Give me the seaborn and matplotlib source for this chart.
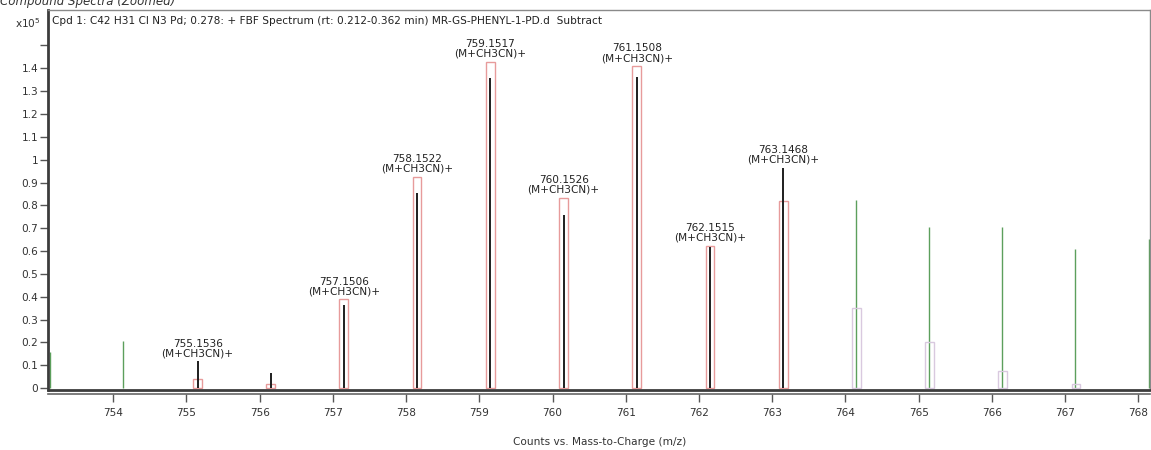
import matplotlib
matplotlib.use("Agg")
import matplotlib.pyplot as plt
import seaborn as sns

sns.set_theme(style="white")
plt.rcParams['font.family'] = ['DejaVu Sans']

# sample spectrum (black sticks), counts x10^5
peak_mz = [755.1536, 756.1520, 757.1506, 758.1522, 759.1517, 760.1526, 761.1508, 762.1515, 763.1468]
peak_int = [0.119, 0.068, 0.365, 0.853, 1.356, 0.758, 1.363, 0.619, 0.965]
peak_labels = ["755.1536", None, "757.1506", "758.1522", "759.1517", "760.1526",
               "761.1508", "762.1515", "763.1468"]
adduct = "(M+CH3CN)+"

# predicted isotope pattern (red boxes)
pred_mz = [755.15, 756.15, 757.15, 758.15, 759.15, 760.15, 761.15, 762.15, 763.15]
pred_int = [0.04, 0.02, 0.39, 0.926, 1.429, 0.834, 1.411, 0.624, 0.819]

# pattern tail outside the match (pale boxes)
tail_mz = [764.15, 765.15, 766.15, 767.15]
tail_int = [0.35, 0.204, 0.076, 0.02]

# other ions (green sticks)
other_mz = [753.14, 754.14, 764.14, 765.14, 766.14, 767.14, 768.14]
other_int = [0.16, 0.208, 0.824, 0.707, 0.704, 0.609, 0.654]

yticks = [0, 0.1, 0.2, 0.3, 0.4, 0.5, 0.6, 0.7, 0.8, 0.9, 1, 1.1, 1.2, 1.3, 1.4, 1.5]
xticks = list(range(754, 769))

fig = plt.figure(figsize=(11.51, 4.5), dpi=100)
ax = fig.add_axes([48 / 1151, 60 / 450, 1102 / 1151, 380 / 450])

ylo, yhi = -0.008, 1.655
ax.set_xlim(753.11, 768.16)
ax.set_ylim(ylo, yhi)

ax.vlines(other_mz, 0, other_int, color="#5c9f5c", lw=1.0, zorder=2)
ax.bar(pred_mz, pred_int, width=0.12, fill=False, edgecolor="#e79b9b", lw=1.0, zorder=3)
ax.bar(tail_mz, tail_int, width=0.12, fill=False, edgecolor="#d9c9df", lw=1.0, zorder=3)
ax.vlines(peak_mz, 0, peak_int, color="#1e1e1e", lw=1.4, zorder=4)

# labels above each annotated peak
for mz, h, p, lab in zip(peak_mz, peak_int, pred_int, peak_labels):
    if lab is None:
        continue
    top = max(h, p) + 0.012
    ax.text(mz, top, lab + "\n" + adduct, ha="center", va="bottom",
            fontsize=7.6, color="#222222", linespacing=0.95, zorder=5)

ax.set_yticks(yticks)
ax.set_yticklabels(["" if t == 1.5 else f"{t:g}" for t in yticks])
ax.set_xticks(xticks)
ax.set_xticklabels([str(t) for t in xticks])
ax.tick_params(axis="both", which="major", labelsize=7.6, labelcolor="#333333",
               color="#555555", length=6, width=1.0, direction="out", left=True, bottom=True)
ax.tick_params(axis="x", pad=4)
ax.tick_params(axis="y", pad=1)

for side in ["top", "right"]:
    ax.spines[side].set_color("#8a8a8a")
    ax.spines[side].set_linewidth(1.0)
ax.spines["left"].set_color("#3c3c3c")
ax.spines["left"].set_linewidth(2.0)
ax.spines["bottom"].set_color("#666666")
ax.spines["bottom"].set_linewidth(1.2)
ax.spines["bottom"].set_position(("outward", 3))
ax.axhline(ylo, color="#3c3c3c", lw=2.0, clip_on=False, zorder=6)

ax.set_xlabel("")
ax.set_ylabel("")
ax.text(0.004, 0.985, "Cpd 1: C42 H31 Cl N3 Pd; 0.278: + FBF Spectrum (rt: 0.212-0.362 min) "
        "MR-GS-PHENYL-1-PD.d  Subtract", transform=ax.transAxes, ha="left", va="top",
        fontsize=7.6, color="#222222")

fig.text(15 / 1151, 1 - 23 / 450, r"x10$^5$", ha="left", va="center", fontsize=7.6, color="#333333")
fig.text(0.0, 1 - 4.5 / 450, "Compound Spectra (Zoomed)", ha="left", va="baseline",
         fontsize=8.5, style="italic", color="#333333")
fig.text(600 / 1151, 1 - 442 / 450, "Counts vs. Mass-to-Charge (m/z)", ha="center", va="center",
         fontsize=7.6, color="#333333")

fig.savefig("out.png", dpi=100)
